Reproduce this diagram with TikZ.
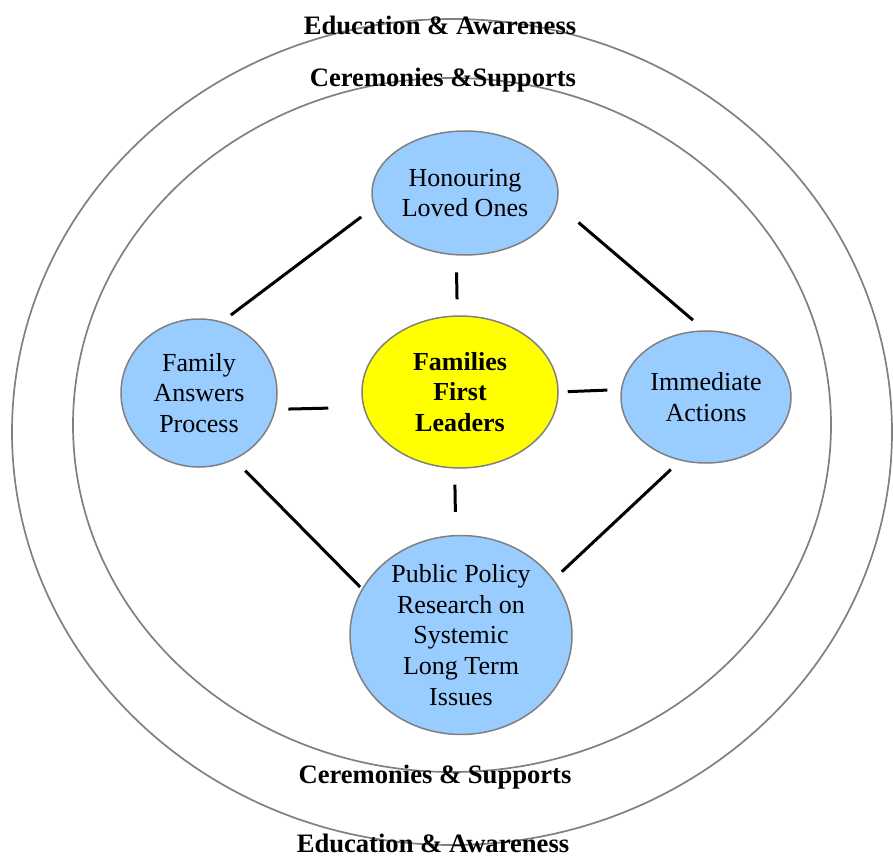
\documentclass[tikz,border=0pt]{standalone}
\usepackage{fontspec}
\setmainfont{Liberation Serif}
\usepackage{xcolor}
\usepackage{tikz}
\usetikzlibrary{shapes.geometric}
\definecolor{ink}{HTML}{000000}
\definecolor{rim}{HTML}{808080}
\definecolor{skyfill}{HTML}{99CCFF}
\definecolor{corefill}{HTML}{FFFF00}
\tikzset{
  bubble/.style={ellipse,draw=rim,line width=0.75pt,fill=skyfill,inner sep=0pt,align=center,text=ink,font=\fontsize{13}{15.3}\selectfont},
  core/.style={bubble,fill=corefill,font=\fontsize{13}{15.2}\selectfont\bfseries},
  ring/.style={draw=rim,line width=0.85pt},
  ringlabel/.style={inner sep=0pt,text=ink,font=\fontsize{13.3}{15}\selectfont\bfseries},
  link/.style={draw=ink,line width=1.5pt}
}

\begin{document}
\begin{tikzpicture}[x=0.5pt,y=-0.5pt]
  \useasboundingbox (0,0) rectangle (893,856);
  % rings
  \draw[ring] (452,432) ellipse [x radius=440, y radius=413];
  \draw[ring] (452,425) ellipse [x radius=379, y radius=347];
  \node[ringlabel] (edutop) at (440,25) {Education \& Awareness};
  \node[ringlabel] (certop) at (443,80) {Ceremonies \&Supports};
  \node[ringlabel] (cerbot) at (435,777) {Ceremonies \& Supports};
  \node[ringlabel] (edubot) at (433,843) {Education \& Awareness};
  % nodes
  \node[core,minimum width=98pt,minimum height=76pt] (ffl) at (460,392) {Families\\First\\Leaders};
  \node[bubble,minimum width=93pt,minimum height=62pt] (hon) at (465,193) {Honouring\\Loved Ones};
  \node[bubble,minimum width=78pt,minimum height=74pt] (fam) at (199,393) {Family\\Answers\\Process};
  \node[bubble,minimum width=85pt,minimum height=66pt] (imm) at (706,397) {Immediate\\Actions};
  \node[bubble,minimum width=111pt,minimum height=89pt] (pub) at (461,635) {Public Policy\\Research on\\Systemic\\Long Term\\Issues};
  % links
  \draw[link,shorten <=8.5pt,shorten >=8pt] (hon.262.2) -- (ffl.92.3);
  \draw[link,shorten <=17.5pt,shorten >=6.3pt] (ffl.189.5) -- (fam.348.9);
  \draw[link,shorten <=4.5pt,shorten >=6.7pt] (ffl.0.6) -- (imm.175.9);
  \draw[link,shorten <=8pt,shorten >=11.5pt] (ffl.266.2) -- (pub.93.9);
  \draw[link,shorten <=7.9pt,shorten >=5.4pt] (hon.189.2) -- (fam.72.4);
  \draw[link,shorten <=14pt,shorten >=7.8pt] (hon.353.3) -- (imm.91.1);
  \draw[link,shorten <=7.7pt,shorten >=1.2pt] (fam.298) -- (pub.155.3);
  \draw[link,shorten <=6.5pt,shorten >=5.5pt] (imm.248.2) -- (pub.31.8);
\end{tikzpicture}
\end{document}
